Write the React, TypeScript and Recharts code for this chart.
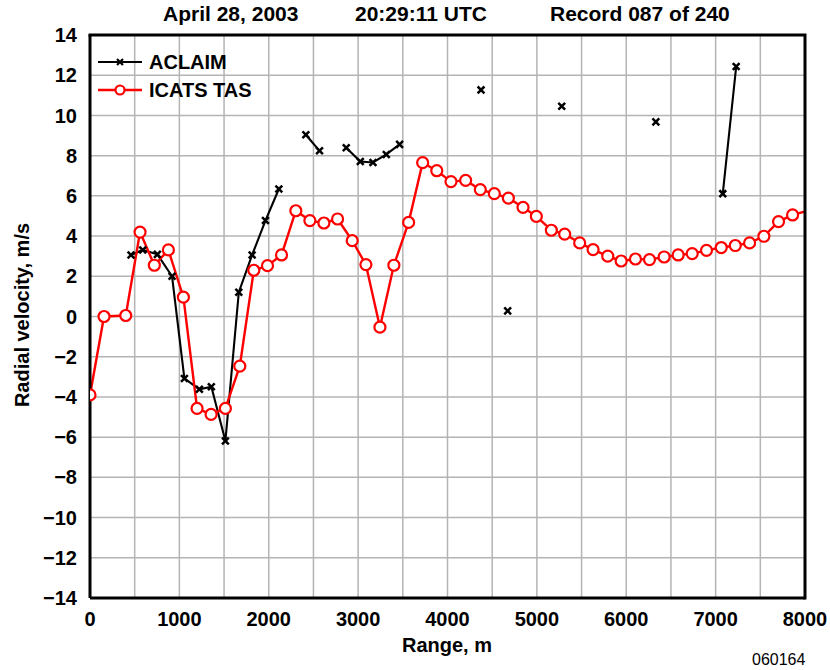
import { CartesianGrid, Line, LineChart, XAxis, YAxis } from "recharts";

// ICATS TAS radial velocity (range in m, velocity in m/s)
const icatsRange = [
  0, 157, 400, 560, 720, 877, 1045, 1198, 1355, 1515, 1676, 1833, 1986, 2143, 2303, 2460,
  2617, 2770, 2934, 3087, 3244, 3400, 3565, 3722, 3880, 4039, 4203, 4367, 4524, 4681, 4845,
  4994, 5162, 5311, 5479, 5629, 5793, 5943, 6103, 6260, 6424, 6581, 6738, 6898, 7063, 7220,
  7380, 7540, 7704, 7861, 8018,
];
const icatsVel = [
  -3.9, 0.0, 0.05, 4.2, 2.55, 3.31, 0.96, -4.57, -4.87, -4.57, -2.47, 2.3, 2.53, 3.06, 5.26, 4.77,
  4.65, 4.85, 3.77, 2.58, -0.53, 2.55, 4.68, 7.65, 7.25, 6.71, 6.77, 6.31, 6.11, 5.89, 5.43,
  4.98, 4.29, 4.1, 3.66, 3.33, 3.0, 2.76, 2.86, 2.83, 2.96, 3.06, 3.13, 3.29, 3.43, 3.53,
  3.66, 3.99, 4.72, 5.05, 5.24,
];

// ACLAIM lidar, null = no valid return (gap)
const aclaimRange = [
  459, 590, 754, 918, 1056, 1224, 1358, 1515, 1665, 1814, 1963, 2113, 2264, 2415, 2568, 2718,
  2867, 3024, 3166, 3315, 3464, 3600, 4375, 4525, 4673, 4825, 5278, 5430, 6331, 6480, 7080, 7230,
];
const aclaimVel: (number | null)[] = [
  3.06, 3.31, 3.09, 2.0, -3.08, -3.62, -3.49, -6.19, 1.21, 3.06, 4.77, 6.34, null, 9.04, 8.24, null,
  8.39, 7.71, 7.66, 8.06, 8.56, null, 11.27, null, 0.28, null, 10.46, null, 9.68, null, 6.11, 12.43,
];

const xTicks = [0, 1000, 2000, 3000, 4000, 5000, 6000, 7000, 8000];
const xGrid = [0, 500, 1000, 1500, 2000, 2500, 3000, 3500, 4000, 4500, 5000, 5500, 6000, 6500, 7000, 7500, 8000];
const yTicks = [-14, -12, -10, -8, -6, -4, -2, 0, 2, 4, 6, 8, 10, 12, 14];

const icatsData = icatsRange.map((range, i) => ({ range, vel: icatsVel[i] }));
const aclaimData = aclaimRange.map((range, i) => ({ range, vel: aclaimVel[i] }));

const W = 830;
const H = 670;
const MARGIN = { top: 35, right: 25, bottom: 42, left: 30 };
const Y_AXIS_W = 60;
const X_AXIS_H = 30;
// plot box, derived from the same margins the chart uses
const PLOT = {
  x: MARGIN.left + Y_AXIS_W,
  y: MARGIN.top,
  w: W - MARGIN.left - Y_AXIS_W - MARGIN.right,
  h: H - MARGIN.top - MARGIN.bottom - X_AXIS_H,
};

const FONT = '"Liberation Sans", Arial, Helvetica, sans-serif';
const RED = "#ff0000";
const frame = { stroke: "#000", strokeWidth: 3 };

const fmt = (v: number) => (v < 0 ? `\u2212${Math.abs(v)}` : `${v}`);

function CrossDot(props: any) {
  const { cx, cy, index, value } = props;
  if (cx == null || cy == null || value == null || Number.isNaN(cy)) return <g key={`a-${index}`} />;
  const s = 3.4;
  return (
    <g key={`a-${index}`} stroke="#000" strokeWidth={2.5}>
      <line x1={cx - s} y1={cy - s} x2={cx + s} y2={cy + s} />
      <line x1={cx - s} y1={cy + s} x2={cx + s} y2={cy - s} />
    </g>
  );
}

function CircleDot(props: any) {
  const { cx, cy, index, payload } = props;
  if (cx == null || cy == null || payload.range > 8000) return <g key={`i-${index}`} />;
  return <circle key={`i-${index}`} cx={cx} cy={cy} r={5.5} fill="#fff" stroke={RED} strokeWidth={2.2} />;
}

const text = (extra: React.CSSProperties): React.CSSProperties => ({
  position: "absolute",
  fontFamily: FONT,
  fontWeight: 700,
  fontSize: 20,
  lineHeight: "20px",
  whiteSpace: "nowrap",
  color: "#000",
  ...extra,
});

export default function App() {
  return (
    <div style={{ position: "absolute", left: 0, top: 0, width: W, height: H, background: "#fff" }}>
      <LineChart width={W} height={H} margin={MARGIN} style={{ fontFamily: FONT }}>
        <CartesianGrid
          stroke="#b4b4b4"
          strokeWidth={1.5}
          verticalValues={xGrid}
          horizontalValues={yTicks}
        />
        <XAxis
          dataKey="range"
          type="number"
          domain={[0, 8000]}
          allowDataOverflow
          ticks={xTicks}
          height={X_AXIS_H}
          axisLine={frame}
          tickLine={false}
          tickSize={0}
          tickMargin={14}
          tick={{ fill: "#000", fontSize: 20, fontWeight: 700 }}
        />
        <YAxis
          type="number"
          domain={[-14, 14]}
          ticks={yTicks}
          width={Y_AXIS_W}
          axisLine={frame}
          tickLine={false}
          tickSize={0}
          tickMargin={13}
          tickFormatter={fmt}
          tick={{ fill: "#000", fontSize: 20, fontWeight: 700 }}
        />
        <Line
          data={aclaimData}
          dataKey="vel"
          stroke="#000"
          strokeWidth={2.1}
          dot={CrossDot}
          activeDot={false}
          connectNulls={false}
          isAnimationActive={false}
        />
        <Line
          data={icatsData}
          dataKey="vel"
          stroke={RED}
          strokeWidth={2.4}
          dot={CircleDot}
          activeDot={false}
          isAnimationActive={false}
        />
      </LineChart>

      {/* top and right edges of the plot frame */}
      <svg
        width={W}
        height={H}
        style={{ position: "absolute", left: 0, top: 0, pointerEvents: "none" }}
      >
        <polyline
          points={`${PLOT.x},${PLOT.y} ${PLOT.x + PLOT.w},${PLOT.y} ${PLOT.x + PLOT.w},${PLOT.y + PLOT.h}`}
          fill="none"
          stroke="#000"
          strokeWidth={3}
          strokeLinecap="square"
        />
      </svg>

      <div style={text({ left: 163, top: 4, fontSize: 21 })}>April 28, 2003</div>
      <div style={text({ left: 355, top: 4, fontSize: 21 })}>20:29:11 UTC</div>
      <div style={text({ left: 550, top: 4, fontSize: 21 })}>Record 087 of 240</div>

      <div style={text({ left: 98, top: 52 })}>
        <svg width={46} height={20} style={{ verticalAlign: "top" }}>
          <line x1={0} y1={10} x2={44} y2={10} stroke="#000" strokeWidth={2.2} />
          <g stroke="#000" strokeWidth={2.2}>
            <line x1={19} y1={7} x2={25} y2={13} />
            <line x1={19} y1={13} x2={25} y2={7} />
          </g>
        </svg>
        <span style={{ marginLeft: 5 }}>ACLAIM</span>
      </div>
      <div style={text({ left: 98, top: 80 })}>
        <svg width={46} height={20} style={{ verticalAlign: "top" }}>
          <line x1={0} y1={10} x2={44} y2={10} stroke={RED} strokeWidth={2.4} />
          <circle cx={22} cy={10} r={4.5} fill="#fff" stroke={RED} strokeWidth={2.2} />
        </svg>
        <span style={{ marginLeft: 5 }}>ICATS TAS</span>
      </div>

      <div style={text({ left: 447, top: 635, transform: "translateX(-50%)" })}>Range, m</div>
      <div
        style={text({
          left: 22,
          top: 315,
          transform: "translate(-50%, -50%) rotate(-90deg)",
        })}
      >
        Radial velocity, m/s
      </div>
      <div style={text({ left: 752, top: 652, fontWeight: 400, fontSize: 16, lineHeight: "16px" })}>060164</div>
    </div>
  );
}
